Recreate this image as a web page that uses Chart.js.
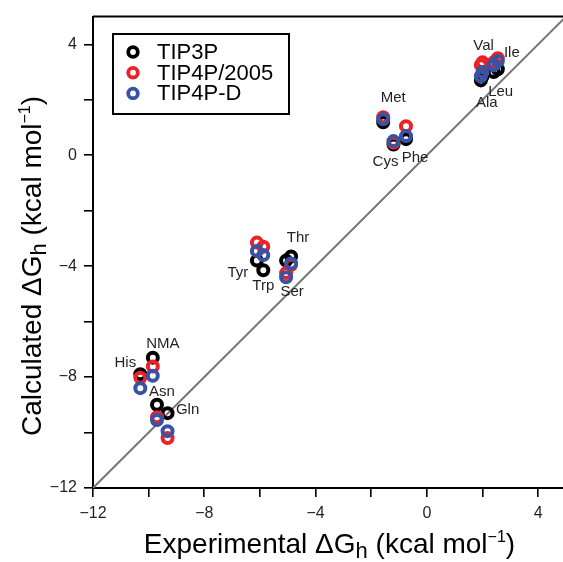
<!DOCTYPE html>
<html>
<head>
<meta charset="utf-8">
<script src="https://cdn.jsdelivr.net/npm/chart.js@4/dist/chart.umd.min.js"></script>
<style>
  html, body { margin: 0; padding: 0; background: #fff; overflow: hidden; }
  #wrap { width: 563px; height: 562px; overflow: hidden; position: relative; }
  canvas { display: block; }
</style>
</head>
<body>
<div id="wrap"><canvas id="c" width="566" height="562" style="width:566px;height:562px"></canvas></div>
<script>
// ---- data ----
const compounds    = ['Ala', 'Val', 'Leu', 'Ile', 'Met', 'Cys', 'Phe', 'Tyr', 'Trp', 'Thr', 'Ser', 'NMA', 'His', 'Asn', 'Gln'];
const experimental = [1.94, 2.00, 2.40, 2.55, -1.57, -1.20, -0.75, -6.11, -5.88, -4.88, -5.06, -9.85, -10.30, -9.70, -9.32];
const tip3p        = [2.70, 2.85, 3.00, 3.10, 1.19, 0.39, 0.58, -3.80, -4.15, -3.65, -3.80, -7.30, -7.90, -9.00, -9.30];
const tip4p2005    = [3.25, 3.35, 3.35, 3.50, 1.37, 0.45, 1.05, -3.15, -3.30, -3.95, -4.25, -7.62, -8.02, -9.45, -10.20];
const tip4pD       = [2.85, 3.00, 3.25, 3.40, 1.30, 0.51, 0.69, -3.45, -3.60, -3.90, -4.40, -7.95, -8.40, -9.55, -9.95];
const seriesNames  = ['TIP3P', 'TIP4P/2005', 'TIP4P-D'];
const axisRange    = [-12, 5];
const tickStep     = 2;
const labelEvery   = 4;

// ---- styles / label placement (pixel offsets from the TIP3P point) ----
const colors = ['#000000', '#ec2227', '#3953a4'];
const labelOffsets = [[6, 22], [1, -30], [7, 20], [14, -16], [10, -24], [-8, 17], [9, 19],
                      [-19, 12], [0, 16], [7, -19], [6, 31], [10, -14], [-15, -11], [5, -13], [20, -3]];
const FONT = "'Liberation Sans', Arial, Helvetica, sans-serif";

const series = [tip3p, tip4p2005, tip4pD];
const pts = arr => experimental.map((x, i) => ({ x: x, y: arr[i] }));
const minus = v => String(v).replace('-', '\u2212');

const datasets = [{
  type: 'line',
  label: 'y = x',
  data: [{ x: axisRange[0], y: axisRange[0] }, { x: axisRange[1], y: axisRange[1] }],
  borderColor: '#767676',
  borderWidth: 2,
  pointRadius: 0,
  fill: false,
  order: 10
}];
series.forEach((arr, k) => {
  datasets.push({
    type: 'scatter',
    label: seriesNames[k],
    data: pts(arr),
    borderColor: colors[k],
    backgroundColor: 'rgba(0,0,0,0)',
    pointRadius: 5,
    pointBorderWidth: 4,
    borderWidth: 4,
    pointStyle: 'circle',
    order: 3 - k
  });
});

function richText(ctx, parts, x, y) {
  let w = 0;
  parts.forEach(p => { ctx.font = p[1] + 'px ' + FONT; w += ctx.measureText(p[0]).width; });
  let cx = x - w / 2;
  parts.forEach(p => {
    ctx.font = p[1] + 'px ' + FONT;
    ctx.fillText(p[0], cx, y + p[2]);
    cx += ctx.measureText(p[0]).width;
  });
}

const decor = {
  id: 'decor',
  afterLayout(chart) {
    // let the plot area run to the canvas edge (right frame falls just outside the view)
    const W = chart.width;
    const a = chart.chartArea;
    a.right = W; a.width = W - a.left;
    const xs = chart.scales.x;
    xs.right = W; xs.width = W - xs.left;
    xs.configure();
  },
  afterDraw(chart) {
    const ctx = chart.ctx;
    const a = chart.chartArea;
    const xs = chart.scales.x, ys = chart.scales.y;
    ctx.save();
    ctx.strokeStyle = '#000';
    ctx.lineWidth = 2;
    ctx.beginPath();
    ctx.moveTo(a.left, a.top);
    ctx.lineTo(a.right, a.top);
    ctx.lineTo(a.right, a.bottom);
    ctx.stroke();

    // compound labels
    ctx.fillStyle = '#231f20';
    ctx.font = '15px ' + FONT;
    ctx.textAlign = 'center';
    ctx.textBaseline = 'middle';
    compounds.forEach((name, i) => {
      const px = xs.getPixelForValue(experimental[i]);
      const py = ys.getPixelForValue(tip3p[i]);
      ctx.fillText(name, px + labelOffsets[i][0], py + labelOffsets[i][1]);
    });

    // legend
    const lx = 113, ly = 34, lw = 176, lh = 80;
    ctx.lineWidth = 2;
    ctx.strokeStyle = '#000';
    ctx.strokeRect(lx, ly, lw, lh);
    ctx.textAlign = 'left';
    ctx.font = '22px ' + FONT;
    seriesNames.forEach((n, k) => {
      const cy = ly + 18 + k * 20.7;
      ctx.beginPath();
      ctx.strokeStyle = colors[k];
      ctx.lineWidth = 3.8;
      ctx.arc(lx + 20, cy, 4.8, 0, Math.PI * 2);
      ctx.stroke();
      ctx.fillStyle = '#000';
      ctx.fillText(n, lx + 44, cy + 1);
    });

    // axis titles
    ctx.fillStyle = '#000';
    ctx.textAlign = 'left';
    ctx.textBaseline = 'alphabetic';
    const midX = (a.left + a.right) / 2;
    const T = [['\u0394G', 28, 0], ['h', 22, 5], [' (kcal mol', 28, 0], ['\u22121', 16, -11], [')', 28, 0]];
    richText(ctx, [['Experimental ' + T[0][0], 28, 0]].concat(T.slice(1)), midX, 553);
    ctx.translate(41, 266);
    ctx.rotate(-Math.PI / 2);
    richText(ctx, [['Calculated ' + T[0][0], 28, 0]].concat(T.slice(1)), 0, 0);
    ctx.restore();
  }
};

const axisCommon = {
  type: 'linear',
  min: axisRange[0],
  max: axisRange[1],
  ticks: {
    stepSize: tickStep,
    includeBounds: false,
    autoSkip: false,
    maxRotation: 0,
    color: '#231f20',
    font: { family: FONT, size: 16 },
    callback: v => (v % labelEvery === 0 ? minus(v) : '')
  },
  grid: { drawOnChartArea: false, drawTicks: true, tickLength: 9, color: '#000', lineWidth: 1.6 },
  border: { color: '#000', width: 2 }
};

new Chart(document.getElementById('c'), {
  data: { datasets },
  options: {
    responsive: false,
    animation: false,
    devicePixelRatio: 1,
    layout: { padding: { top: 15, right: 0, left: 0, bottom: 0 } },
    plugins: { legend: { display: false }, tooltip: { enabled: false } },
    scales: {
      x: Object.assign({}, axisCommon, {
        position: 'bottom',
        ticks: Object.assign({}, axisCommon.ticks, { padding: 7 }),
        afterFit: s => { s.height = 74; }
      }),
      y: Object.assign({}, axisCommon, {
        position: 'left',
        ticks: Object.assign({}, axisCommon.ticks, { padding: 7 }),
        afterFit: s => { s.width = 93; }
      })
    }
  },
  plugins: [decor]
});
</script>
</body>
</html>
